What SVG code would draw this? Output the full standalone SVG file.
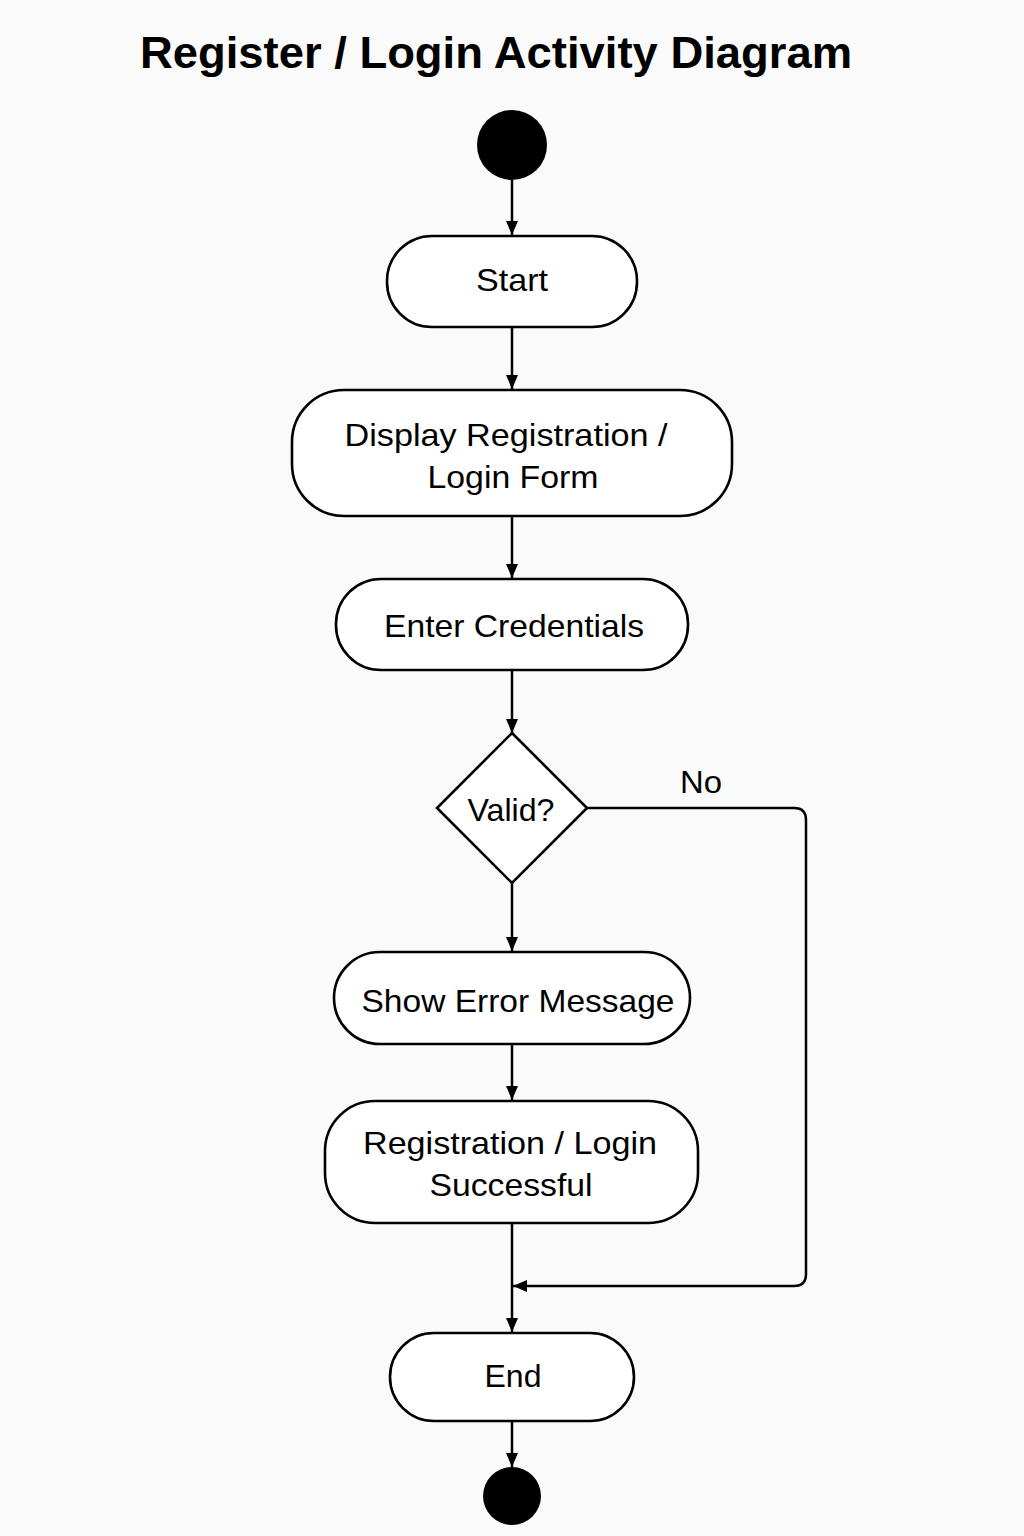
<svg xmlns="http://www.w3.org/2000/svg" width="1024" height="1536" viewBox="0 0 1024 1536">
<style>
.node{fill:#ffffff;stroke:#000;stroke-width:2.6}
.lbl{font-family:"Liberation Sans",Arial,sans-serif;font-size:32px;fill:#000;text-anchor:middle;dominant-baseline:central}
.edge{fill:none;stroke:#000;stroke-width:2.5}
</style>
<defs>
<marker id="arr" viewBox="0 0 14 14" refX="14" refY="7" markerWidth="14" markerHeight="14" markerUnits="userSpaceOnUse" orient="auto">
<path d="M0,1 L14,7 L0,13 Z" fill="#000"/>
</marker>
</defs>
<rect width="1024" height="1536" fill="#fafafa"/>
<text x="496" y="52" font-family="Liberation Sans,Arial,sans-serif" font-size="45" font-weight="bold" text-anchor="middle" dominant-baseline="central" fill="#000" textLength="712" lengthAdjust="spacingAndGlyphs">Register / Login Activity Diagram</text>
<g id="initial"><circle cx="512" cy="145" r="35" fill="#000"/></g>
<g id="start"><rect class="node" x="387" y="236" width="250" height="91" rx="45"/><text class="lbl" x="512" y="280" textLength="72" lengthAdjust="spacingAndGlyphs">Start</text></g>
<g id="display"><rect class="node" x="292" y="390" width="440" height="126" rx="52"/><text class="lbl" x="506" y="435" textLength="323" lengthAdjust="spacingAndGlyphs">Display Registration /</text><text class="lbl" x="513" y="477" textLength="171" lengthAdjust="spacingAndGlyphs">Login Form</text></g>
<g id="enter"><rect class="node" x="336" y="579" width="352" height="91" rx="45"/><text class="lbl" x="514" y="626" textLength="260" lengthAdjust="spacingAndGlyphs">Enter Credentials</text></g>
<g id="valid"><polygon class="node" points="512,733 587,808 512,883 437,808"/><text class="lbl" x="511" y="810" textLength="87" lengthAdjust="spacingAndGlyphs">Valid?</text></g>
<g id="error"><rect class="node" x="334" y="952" width="356" height="92" rx="46"/><text class="lbl" x="518" y="1001" textLength="313" lengthAdjust="spacingAndGlyphs">Show Error Message</text></g>
<g id="success"><rect class="node" x="325" y="1101" width="373" height="122" rx="50"/><text class="lbl" x="510" y="1143" textLength="294" lengthAdjust="spacingAndGlyphs">Registration / Login</text><text class="lbl" x="511" y="1185" textLength="163" lengthAdjust="spacingAndGlyphs">Successful</text></g>
<g id="end"><rect class="node" x="390" y="1333" width="244" height="88" rx="44"/><text class="lbl" x="513" y="1376" textLength="57" lengthAdjust="spacingAndGlyphs">End</text></g>
<g id="final"><circle cx="512" cy="1496" r="29" fill="#000"/></g>
<g id="connectors">
<line class="edge" x1="512" y1="180" x2="512" y2="235" marker-end="url(#arr)"/>
<line class="edge" x1="512" y1="327" x2="512" y2="389" marker-end="url(#arr)"/>
<line class="edge" x1="512" y1="516" x2="512" y2="578" marker-end="url(#arr)"/>
<line class="edge" x1="512" y1="670" x2="512" y2="733" marker-end="url(#arr)"/>
<line class="edge" x1="512" y1="883" x2="512" y2="951" marker-end="url(#arr)"/>
<line class="edge" x1="512" y1="1044" x2="512" y2="1100" marker-end="url(#arr)"/>
<line class="edge" x1="512" y1="1223" x2="512" y2="1332" marker-end="url(#arr)"/>
<line class="edge" x1="512" y1="1421" x2="512" y2="1467" marker-end="url(#arr)"/>
<path class="edge" d="M587,808 H794 Q806,808 806,820 V1274 Q806,1286 794,1286 H513" marker-end="url(#arr)"/>
<text x="701" y="782" font-family="Liberation Sans,Arial,sans-serif" font-size="32" text-anchor="middle" dominant-baseline="central" fill="#000" textLength="42" lengthAdjust="spacingAndGlyphs">No</text>
</g>
</svg>
